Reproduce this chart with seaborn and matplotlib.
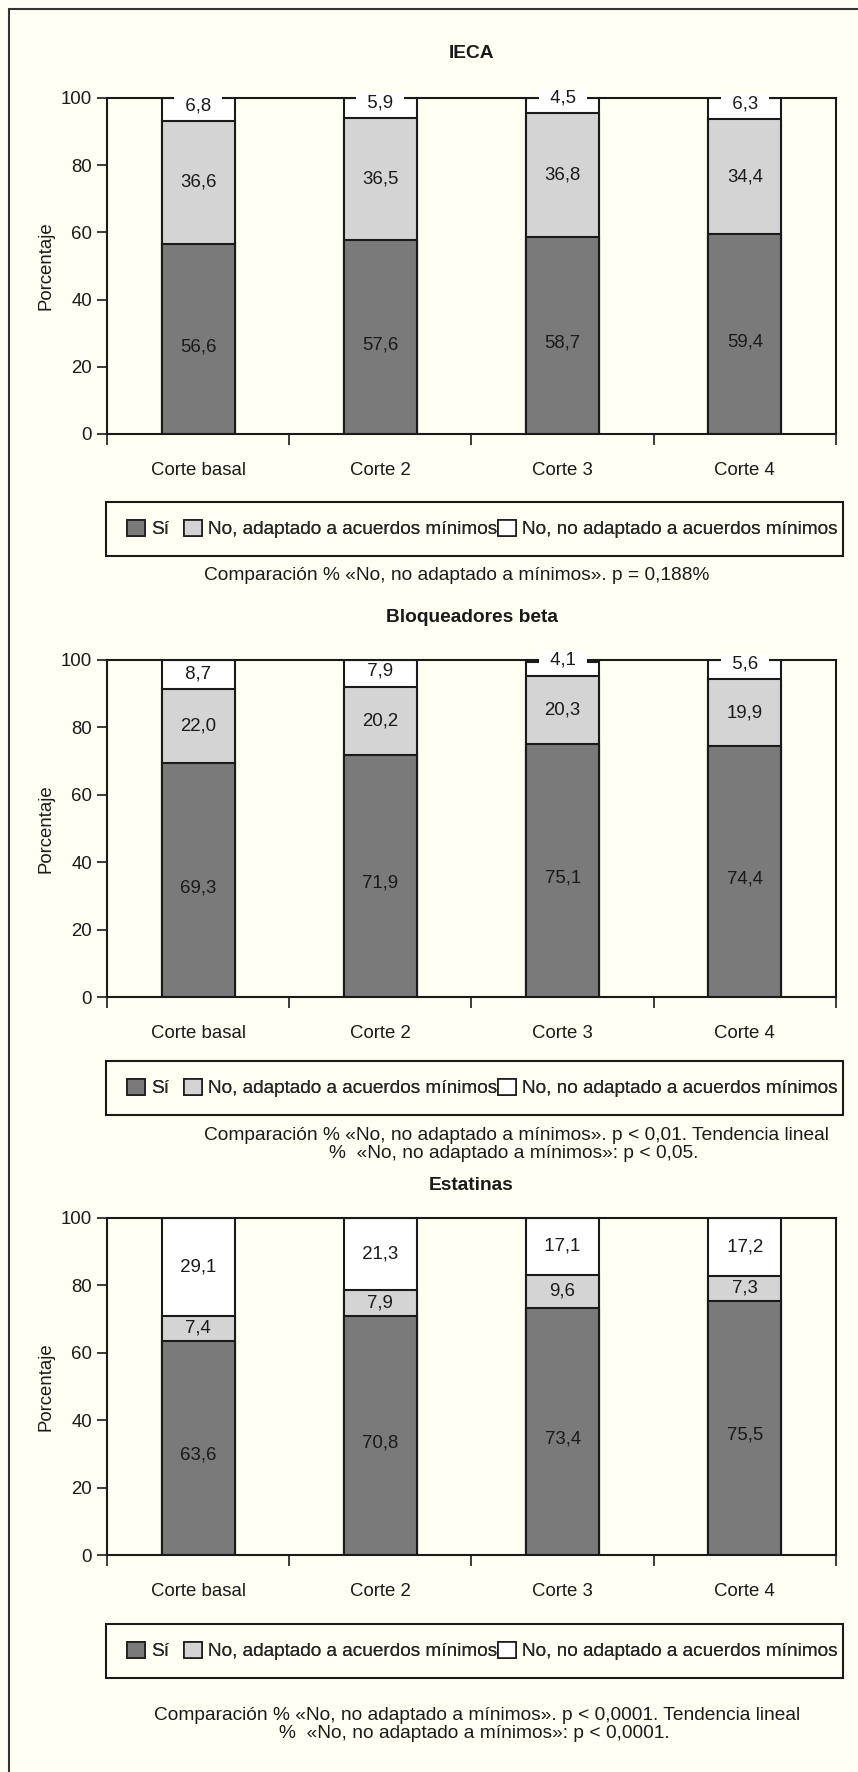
import matplotlib
matplotlib.use("Agg")
import matplotlib.pyplot as plt
from matplotlib.patches import Patch, Rectangle
from matplotlib.lines import Line2D
import seaborn as sns

# ---- data -------------------------------------------------------------
categories = ["Corte basal", "Corte 2", "Corte 3", "Corte 4"]

ieca_si = [56.6, 57.6, 58.7, 59.4]
ieca_adapt = [36.6, 36.5, 36.8, 34.4]
ieca_no = [6.8, 5.9, 4.5, 6.3]

beta_si = [69.3, 71.9, 75.1, 74.4]
beta_adapt = [22.0, 20.2, 20.3, 19.9]
beta_no = [8.7, 7.9, 4.1, 5.6]

estat_si = [63.6, 70.8, 73.4, 75.5]
estat_adapt = [7.4, 7.9, 9.6, 7.3]
estat_no = [29.1, 21.3, 17.1, 17.2]

y_ticks = [0, 20, 40, 60, 80, 100]
legend_labels = ["Sí", "No, adaptado a acuerdos mínimos",
                 "No, no adaptado a acuerdos mínimos"]
panel_titles = ["IECA", "Bloqueadores beta", "Estatinas"]
notes = [
    ["Comparación % «No, no adaptado a mínimos». p = 0,188%"],
    ["Comparación % «No, no adaptado a mínimos». p < 0,01. Tendencia lineal",
     "%  «No, no adaptado a mínimos»: p < 0,05."],
    ["Comparación % «No, no adaptado a mínimos». p < 0,0001. Tendencia lineal",
     "%  «No, no adaptado a mínimos»: p < 0,0001."],
]

# ---- style ------------------------------------------------------------
sns.set_style("white")
plt.rcParams["font.family"] = ["Liberation Sans", "DejaVu Sans"]

W, H = 858, 1772
BG = "#fffff3"
C_SI = "#7a7a7a"
C_ADAPT = "#d4d4d4"
C_NO = "#ffffff"
INK = "#1a1a1a"
FS = 13.4
FS_LEG = 13.7
FS_NOTE = 13.8
FS_TITLE = 13.8
LEG_X = [127, 184, 498]  # left edge of each legend entry (px)


def fx(px):
    return px / W


def fy(py):
    return 1 - py / H


def fmt(v):
    return f"{v:.1f}".replace(".", ",")


fig = plt.figure(figsize=(W / 100, H / 100), dpi=100, facecolor=BG)

# outer frame (left and top edges)
fig.add_artist(Line2D([fx(9), fx(9)], [fy(9), 0], transform=fig.transFigure,
                      color="#333333", lw=1.5))
fig.add_artist(Line2D([fx(9), 1], [fy(9), fy(9)], transform=fig.transFigure,
                      color="#333333", lw=1.5))

panels = [
    dict(si=ieca_si, adapt=ieca_adapt, no=ieca_no, title_y=54,
         top=98, bottom=434, leg=(502, 556),
         note_pos=[(204, 576)]),
    dict(si=beta_si, adapt=beta_adapt, no=beta_no, title_y=617,
         top=660, bottom=997, leg=(1061, 1115),
         note_pos=[(204, 1135), (329, 1154)]),
    dict(si=estat_si, adapt=estat_adapt, no=estat_no, title_y=1185,
         top=1218, bottom=1555, leg=(1624, 1678),
         note_pos=[(154, 1715), (279, 1734)]),
]

AX_L, AX_R = 107, 836

for k, p in enumerate(panels):
    ax = fig.add_axes([fx(AX_L), fy(p["bottom"]), fx(AX_R) - fx(AX_L),
                       fy(p["top"]) - fy(p["bottom"])])
    ax.set_facecolor(BG)

    si, adapt, no = p["si"], p["adapt"], p["no"]
    cum_adapt = [a + b for a, b in zip(si, adapt)]
    total = [a + b for a, b in zip(cum_adapt, no)]

    # stacked bars drawn as overlapping cumulative layers
    for heights, col in [(total, C_NO), (cum_adapt, C_ADAPT), (si, C_SI)]:
        sns.barplot(x=categories, y=heights, color=col, saturation=1,
                    width=0.4, edgecolor=INK, linewidth=1.5, ax=ax)

    ax.set_ylim(0, 100)
    ax.set_xlim(-0.5, 3.5)

    # value labels
    for i in range(len(categories)):
        ax.annotate(fmt(si[i]), (i, si[i] / 2), xytext=(0, -5.5),
                    textcoords="offset points", ha="center", va="center",
                    fontsize=FS, color=INK, zorder=5)
        ax.text(i, si[i] + adapt[i] / 2, fmt(adapt[i]), ha="center",
                va="center", fontsize=FS, color=INK, zorder=5)
        y_no = max(cum_adapt[i] + no[i] / 2, cum_adapt[i] + 4.5)
        ax.text(i, y_no, "  " + fmt(no[i]) + "  ", ha="center", va="center",
                fontsize=FS, color=INK, zorder=5,
                bbox=dict(boxstyle="square,pad=0.05", facecolor=C_NO,
                          edgecolor="none"))

    # axes styling
    for s in ax.spines.values():
        s.set_visible(True)
        s.set_color(INK)
        s.set_linewidth(1.5)
    ax.set_yticks(y_ticks)
    ax.set_yticklabels([str(t) for t in y_ticks])
    ax.tick_params(axis="y", direction="out", length=7.2, width=1.2,
                   color=INK, pad=3.5, labelsize=FS, labelcolor=INK, left=True)
    ax.set_xticks([-0.5, 0.5, 1.5, 2.5, 3.5])
    ax.set_xticklabels([])
    ax.set_xticks(range(len(categories)), minor=True)
    ax.set_xticklabels(categories, minor=True)
    ax.tick_params(axis="x", which="major", direction="out", length=8,
                   width=1.2, color=INK, bottom=True)
    ax.tick_params(axis="x", which="minor", length=0, pad=20, labelsize=FS,
                   labelcolor=INK)
    ax.set_xlabel("")
    ax.set_ylabel("Porcentaje", fontsize=FS, color=INK, labelpad=4.5)

    # panel title
    fig.text(fx((AX_L + AX_R) / 2), fy(p["title_y"]), panel_titles[k],
             ha="center", va="center", fontsize=FS_TITLE, fontweight="bold",
             color=INK)

    # legend: boxed row of three entries at fixed positions
    lt, lb = p["leg"]
    fig.add_artist(Rectangle((fx(106), fy(lb)), fx(843) - fx(106),
                             fy(lt) - fy(lb), transform=fig.transFigure,
                             fill=False, edgecolor=INK, lw=1.5))
    for col, lab, lx in zip((C_SI, C_ADAPT, C_NO), legend_labels, LEG_X):
        leg = fig.legend([Patch(facecolor=col, edgecolor=INK, lw=1.2)], [lab],
                         loc="center left",
                         bbox_to_anchor=(fx(lx), fy((lt + lb) / 2)),
                         frameon=False, fontsize=FS_LEG, handlelength=0.95,
                         handleheight=0.95, handletextpad=0.32, borderpad=0,
                         borderaxespad=0)
        fig.add_artist(leg)

    # statistical notes
    for line, (nx, ny) in zip(notes[k], p["note_pos"]):
        fig.text(fx(nx), fy(ny), line, ha="left", va="center",
                 fontsize=FS_NOTE, color=INK)

fig.savefig("out.png", dpi=100, facecolor=BG)
